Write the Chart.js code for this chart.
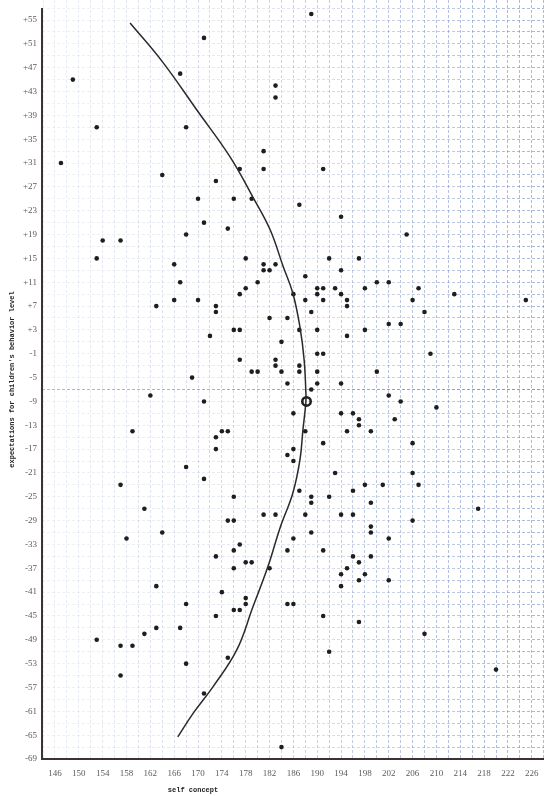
<!DOCTYPE html>
<html>
<head>
<meta charset="utf-8">
<script src="https://cdn.jsdelivr.net/npm/chart.js@4.4.1/dist/chart.umd.min.js"></script>
<style>
  html, body { margin: 0; padding: 0; background: #fff; }
  #chart { display: block; }
</style>
</head>
<body>
<canvas id="chart" width="544" height="796"></canvas>
<script>
// Self concept vs. expectations scatter, with fitted curve

// scatter points (self concept, expectation level)
const selfConcept = [
  149, 153, 147, 154, 157, 153, 159, 157, 158, 153, 157, 159, 157,
  189, 171, 167, 183, 183, 168, 181, 164, 177, 181, 191, 173, 170, 176, 179, 187, 171, 168, 175, 166, 178, 181, 183, 192,
  194, 205, 197, 194,
  181, 182, 167, 188, 178, 180, 177, 186, 163, 166, 170, 173, 173, 188, 189, 190, 191, 190, 191, 182, 185, 176, 177, 187, 190,
  172, 184, 190, 191, 177, 183, 183, 187, 179, 180, 184, 187, 190, 169, 185, 190, 189, 162, 171, 186, 174, 175, 173, 188, 191,
  173, 186, 185, 186, 168, 171, 187, 189, 192, 176, 189, 161, 181, 183, 188, 175, 176,
  193, 194, 198, 200, 202, 207, 213, 225, 195, 195, 206, 208, 202, 204, 198, 195, 209, 200, 194, 202, 204, 210, 194, 196, 197,
  197, 203, 195, 199, 206, 193, 206, 198, 201, 207, 196, 199, 217, 194, 196, 206, 199,
  164, 177, 176, 173, 178, 179, 176, 182, 185, 186, 189, 191, 163, 174, 178, 178, 168, 185, 186, 176, 177, 173, 191, 163, 167,
  161, 192, 168, 175, 171, 184,
  199, 202, 196, 199, 197, 195, 194, 198, 197, 202, 194, 197, 208, 220
];
const expectation = [
  45, 37, 31, 18, 18, 15, -14, -23, -32, -49, -50, -50, -55,
  56, 52, 46, 44, 42, 37, 33, 29, 30, 30, 30, 28, 25, 25, 25, 24, 21, 19, 20, 14, 15, 14, 14, 15,
  22, 19, 15, 13,
  13, 13, 11, 12, 10, 11, 9, 9, 7, 8, 8, 7, 6, 8, 6, 10, 10, 9, 8, 5, 5, 3, 3, 3, 3,
  2, 1, -1, -1, -2, -2, -3, -3, -4, -4, -4, -4, -4, -5, -6, -6, -7, -8, -9, -11, -14, -14, -15, -14, -16,
  -17, -17, -18, -19, -20, -22, -24, -25, -25, -25, -26, -27, -28, -28, -28, -29, -29,
  10, 9, 10, 11, 11, 10, 9, 8, 8, 7, 8, 6, 4, 4, 3, 2, -1, -4, -6, -8, -9, -10, -11, -11, -12,
  -13, -12, -14, -14, -16, -21, -21, -23, -23, -23, -24, -26, -27, -28, -28, -29, -30,
  -31, -33, -34, -35, -36, -36, -37, -37, -34, -32, -31, -34, -40, -41, -42, -43, -43, -43, -43, -44, -44, -45, -45, -47, -47,
  -48, -51, -53, -52, -58, -67,
  -31, -32, -35, -35, -36, -37, -38, -38, -39, -39, -40, -46, -48, -54
];

// hand drawn curve, traced
const curveX = [158.6, 164.1, 169.8, 175.4, 179.2, 182.1, 184.3, 185.9, 187.1, 187.8, 188.1, 188.1,
  187.6, 187.1, 185.9, 183.8, 181.7, 179.2, 176.5, 172.5, 169.2, 166.6];
const curveY = [54.5, 47.9, 39.9, 32.0, 25.3, 19.8, 13.6, 9.2, 3.5, -2.0, -7.6, -9.1,
  -13.8, -18.8, -24.4, -30.1, -36.8, -43.5, -50.7, -56.9, -61.3, -65.3];

// circled mean point
const meanPoint = { x: 188.2, y: -9 };

// axis ticks (grid every 2 units, labels every 4)
const xTickValues = [];
for (let v = 144; v <= 228; v += 2) xTickValues.push(v);
const yTickValues = [];
for (let v = -69; v <= 57; v += 2) yTickValues.push(v);
const xLabelStart = 146;
const yLabelStart = -69;

const xMin = 143.82, xMax = 228.05;
const yMin = -69, yMax = 58.36;

const points = selfConcept.map((x, i) => ({ x: x, y: expectation[i] }));
const curve = curveX.map((x, i) => ({ x: x, y: curveY[i] }));

// faint graph paper: lighter on the left side of the sheet
const hGridColor = (c) => {
  const chart = c.chart;
  const area = chart.chartArea;
  if (!area) return 'rgba(120,145,190,0.3)';
  const dark = c.tick && c.tick.value === -7;
  const g = chart.ctx.createLinearGradient(area.left, 0, area.right, 0);
  if (dark) {
    g.addColorStop(0, 'rgba(90,100,130,0.45)');
    g.addColorStop(1, 'rgba(70,80,120,0.6)');
    return g;
  }
  g.addColorStop(0, 'rgba(165,175,200,0.16)');
  g.addColorStop(0.45, 'rgba(140,160,200,0.26)');
  g.addColorStop(1, 'rgba(95,125,185,0.55)');
  return g;
};
const vGridColor = (c) => {
  const v = c.tick ? c.tick.value : 144;
  const a = 0.16 + 0.4 * Math.max(0, Math.min(1, (v - 150) / 70));
  return 'rgba(110,135,185,' + a.toFixed(3) + ')';
};

const paperPlugin = {
  id: 'paper',
  afterDraw: (chart) => {
    const ctx = chart.ctx;
    const area = chart.chartArea;
    const ys = chart.scales.y;
    ctx.save();
    ctx.strokeStyle = '#3b3333';
    ctx.lineWidth = 2;
    ctx.beginPath();
    ctx.moveTo(area.left, ys.getPixelForValue(57));
    ctx.lineTo(area.left, area.bottom);
    ctx.lineTo(area.right, area.bottom);
    ctx.stroke();
    // x axis title, written left of centre on the sheet
    ctx.fillStyle = '#222';
    ctx.font = 'bold 7px "Liberation Mono"';
    ctx.textAlign = 'center';
    ctx.textBaseline = 'middle';
    ctx.fillText('self concept', 193, 790);
    ctx.restore();
  }
};

new Chart(document.getElementById('chart'), {
  type: 'scatter',
  data: {
    datasets: [
      {
        label: 'subjects',
        data: points,
        pointRadius: 2.3,
        pointBackgroundColor: '#1e1e1e',
        pointBorderWidth: 0,
        order: 2
      },
      {
        label: 'curve',
        data: curve,
        showLine: true,
        tension: 0.4,
        borderColor: '#2a2a2a',
        borderWidth: 1.5,
        pointRadius: 0,
        order: 1
      },
      {
        label: 'mean',
        data: [meanPoint],
        pointRadius: 4.2,
        pointBorderWidth: 2.6,
        pointBorderColor: '#222',
        pointBackgroundColor: 'rgba(255,255,255,0)',
        order: 0
      }
    ]
  },
  options: {
    responsive: false,
    animation: false,
    layout: { padding: 0, autoPadding: false },
    plugins: {
      legend: { display: false },
      tooltip: { enabled: false }
    },
    scales: {
      x: {
        type: 'linear',
        min: xMin,
        max: xMax,
        afterBuildTicks: (scale) => { scale.ticks = xTickValues.map(v => ({ value: v })); },
        afterFit: (scale) => {
          scale.height = 37;
          scale.paddingLeft = 0;
          scale.paddingRight = 0;
        },
        grid: { color: vGridColor, lineWidth: 1, drawTicks: false },
        border: { display: false, dash: [3, 2] },
        ticks: {
          autoSkip: false,
          maxRotation: 0,
          padding: 9,
          color: '#5a5a5a',
          font: { family: 'Liberation Serif', size: 9 },
          callback: (value) => ((value - xLabelStart) % 4 === 0 ? String(value) : '')
        },
        title: { display: false }
      },
      y: {
        type: 'linear',
        min: yMin,
        max: yMax,
        afterBuildTicks: (scale) => { scale.ticks = yTickValues.map(v => ({ value: v })); },
        afterFit: (scale) => {
          scale.width = 42;
          scale.paddingTop = 0;
          scale.paddingBottom = 0;
        },
        grid: { color: hGridColor, lineWidth: 1, drawTicks: false },
        border: { display: false, dash: [3, 2] },
        ticks: {
          autoSkip: false,
          padding: 5,
          color: '#5a5a5a',
          font: { family: 'Liberation Serif', size: 9 },
          callback: (value) => {
            if ((value - yLabelStart) % 4 !== 0 || value > 55) return '';
            return value > 0 ? '+' + value : String(value);
          }
        },
        title: {
          display: true,
          text: "expectations for children's behavior level",
          color: '#222',
          font: { family: 'Liberation Mono', size: 7, weight: 'bold' },
          padding: { top: 8, bottom: 0 }
        }
      }
    }
  },
  plugins: [paperPlugin]
});
</script>
</body>
</html>
